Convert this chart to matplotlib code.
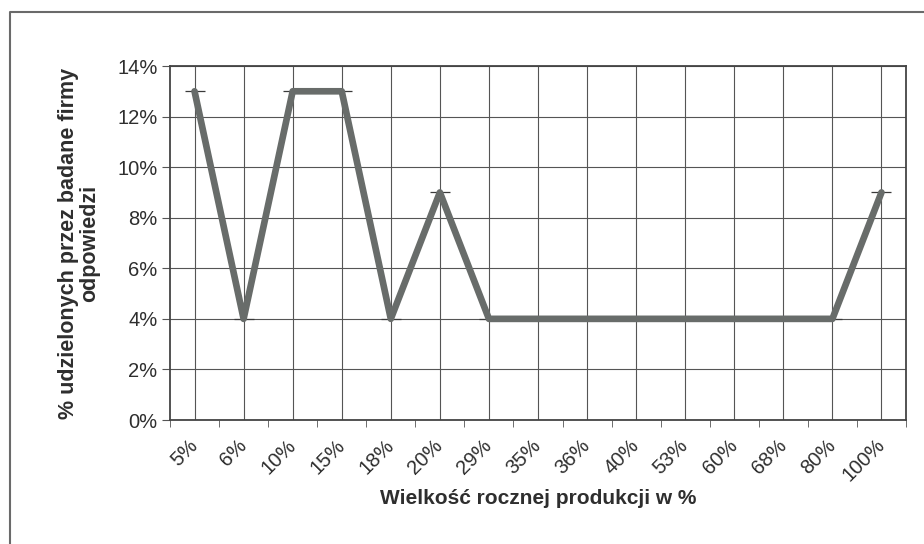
import matplotlib.pyplot as plt
import matplotlib.transforms as mtransforms
from matplotlib.lines import Line2D

# values
categories = ['5%', '6%', '10%', '15%', '18%', '20%', '29%', '35%',
              '36%', '40%', '53%', '60%', '68%', '80%', '100%']
shares = [13, 4, 13, 13, 4, 9, 4, 4, 4, 4, 4, 4, 4, 4, 9]
y_ticks = [0, 2, 4, 6, 8, 10, 12, 14]

plt.rcParams['font.family'] = ['Liberation Sans', 'DejaVu Sans']
TXT = '#2e2e2e'

fig = plt.figure(figsize=(9.24, 5.44), dpi=100)
ax = fig.add_axes([170 / 924, 1 - 420 / 544, 736 / 924, 354 / 544])

x = list(range(len(categories)))
ax.plot(x, shares, color='#686c6a', linewidth=4.8, solid_joinstyle='round',
        solid_capstyle='round', zorder=3)
ax.plot(x, shares, linestyle='none', marker='_', markersize=15,
        markeredgewidth=0.9, color='#3a3a3a', zorder=2)

ax.set_xlim(-0.5, len(categories) - 0.5)
ax.set_ylim(0, 14)
ax.set_yticks(y_ticks)
ax.set_yticklabels([f'{v}%' for v in y_ticks], fontsize=14.5, color=TXT)
ax.set_xticks(x)
ax.set_xticklabels(categories, rotation=45, ha='right', va='center',
                   rotation_mode='anchor', fontsize=14.5, color=TXT)
shift = mtransforms.ScaledTranslation(-5 / 100, 0, fig.dpi_scale_trans)
for lab in ax.get_xticklabels():
    lab.set_transform(lab.get_transform() + shift)
ax.tick_params(axis='x', length=0, pad=16)
ax.set_xticks([i - 0.5 for i in range(len(categories) + 1)], minor=True)
ax.tick_params(axis='x', which='minor', length=5, color='#555555')
ax.tick_params(axis='y', length=6, color='#555555', pad=3)

ax.grid(True, which='major', color='#555555', linewidth=0.8)
ax.set_axisbelow(True)
for s in ax.spines.values():
    s.set_color('#444444')
    s.set_linewidth(1.3)

ax.set_xlabel('Wielkość rocznej produkcji w %', fontsize=15,
              fontweight='bold', color=TXT, labelpad=3)
ax.set_ylabel('% udzielonych przez badane firmy\nodpowiedzi', fontsize=15.5,
              fontweight='bold', color=TXT, labelpad=12, linespacing=1.05)

# outer frame (left and top edges visible in the reference)
fig.add_artist(Line2D([10 / 924, 10 / 924, 1], [0, 1 - 12 / 544, 1 - 12 / 544],
                      transform=fig.transFigure, color='#6a6a6a',
                      linewidth=1.5))

fig.savefig('out.png', dpi=100)
